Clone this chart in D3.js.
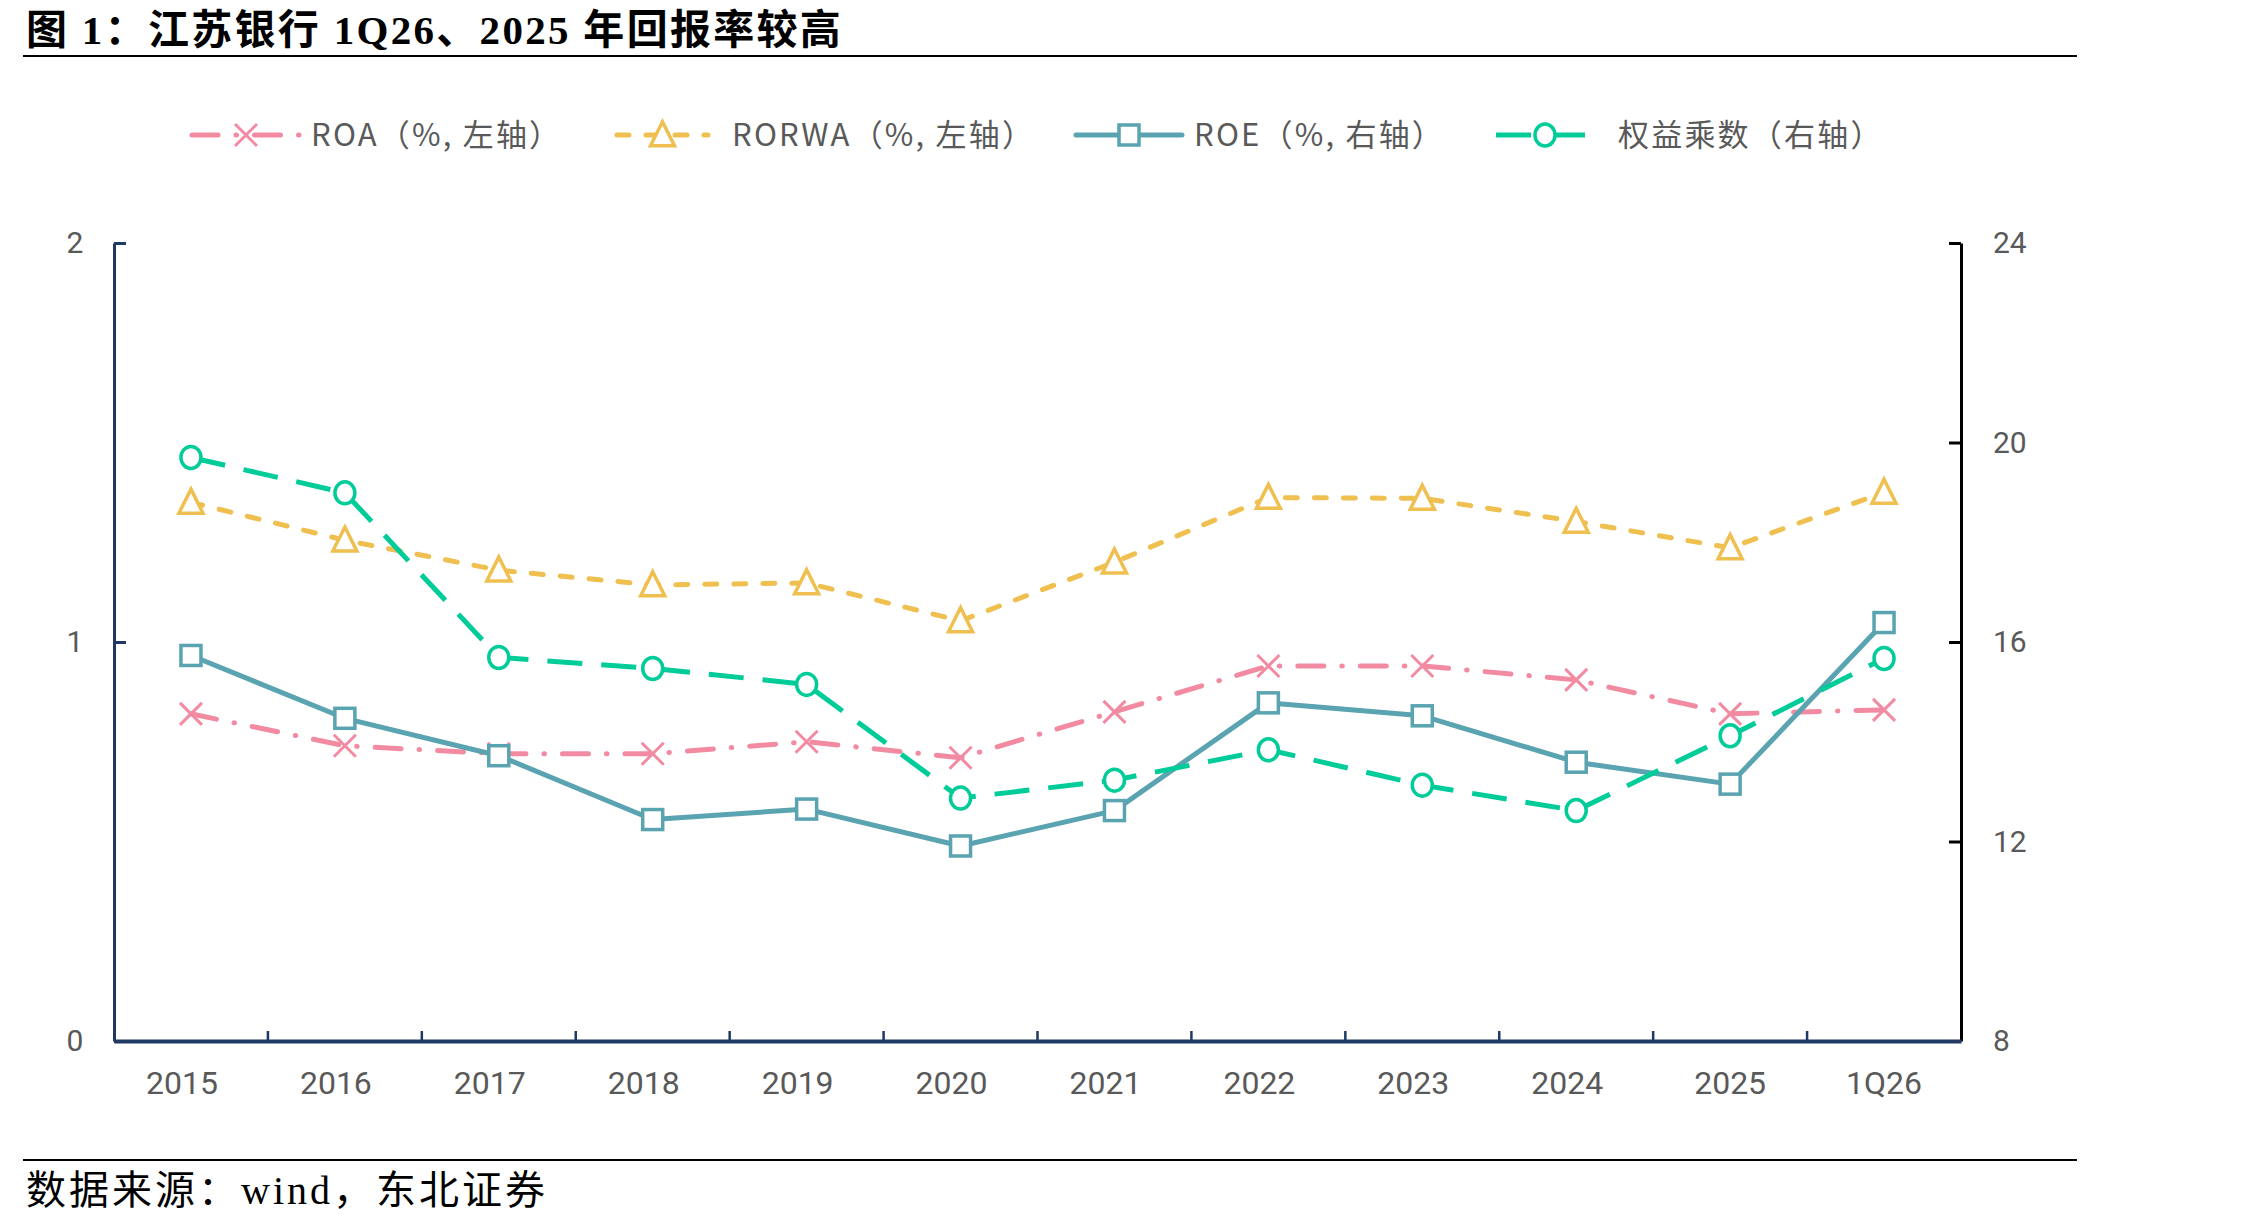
<!DOCTYPE html>
<html>
<head>
<meta charset="utf-8">
<script src="https://cdn.jsdelivr.net/npm/d3@7"></script>
<style>
    body { margin: 0; background: #fff; }
    svg { display: block; }
</style>
</head>
<body>
<svg id="chart"></svg>
<script>
// data
const categories = ["2015", "2016", "2017", "2018", "2019", "2020", "2021", "2022", "2023", "2024", "2025", "1Q26"];
const roa = [0.82, 0.74, 0.72, 0.72, 0.75, 0.71, 0.825, 0.94, 0.94, 0.905, 0.82, 0.83];
const rorwa = [1.35, 1.255, 1.18, 1.143, 1.148, 1.053, 1.2, 1.362, 1.36, 1.302, 1.236, 1.375];
const roe = [15.73, 14.47, 13.72, 12.44, 12.65, 11.91, 12.62, 14.78, 14.52, 13.59, 13.15, 16.39];
const equityMult = [19.7, 18.99, 15.69, 15.47, 15.15, 12.87, 13.23, 13.84, 13.13, 12.62, 14.12, 15.67];
const leftTicks = [0, 1, 2];
const rightTicks = [8, 12, 16, 20, 24];

const W = 2268, H = 1226;
const plot = { left: 114, right: 1961, top: 243, bottom: 1041 };
const grey = "#595959";
const navy = "#1f3864";
const tickFont = "Roboto, 'Noto Sans', sans-serif";
const cjkFont = "'Noto Sans CJK SC', 'Noto Sans', sans-serif";

const svg = d3.select("#chart").attr("width", W).attr("height", H);

// title + rules
svg.append("text")
    .attr("x", 26).attr("y", 44)
    .attr("font-family", "'Liberation Serif', 'Noto Sans CJK SC', serif")
    .attr("font-weight", "bold")
    .attr("font-size", 41)
    .attr("letter-spacing", 2.3)
    .attr("fill", "#000")
    .text("图 1：江苏银行 1Q26、2025 年回报率较高");
svg.append("line").attr("x1", 23).attr("x2", 2077).attr("y1", 56).attr("y2", 56)
    .attr("stroke", "#000").attr("stroke-width", 2);
svg.append("line").attr("x1", 23).attr("x2", 2077).attr("y1", 1160).attr("y2", 1160)
    .attr("stroke", "#000").attr("stroke-width", 2);
svg.append("text")
    .attr("x", 26).attr("y", 1204)
    .attr("font-family", "'Liberation Serif', 'Noto Sans CJK SC', serif")
    .attr("font-size", 40)
    .attr("letter-spacing", 3)
    .attr("fill", "#000")
    .text("数据来源：wind，东北证券");

// scales
const x = d3.scaleBand().domain(categories).range([plot.left, plot.right]).padding(0);
const cx = d => x(d) + x.bandwidth() / 2;
const yL = d3.scaleLinear().domain([0, 2]).range([plot.bottom, plot.top]);
const yR = d3.scaleLinear().domain([8, 24]).range([plot.bottom, plot.top]);

// axes
const axL = svg.append("g").attr("transform", `translate(${plot.left},0)`)
    .call(d3.axisLeft(yL).tickValues(leftTicks).tickFormat(d3.format("d")).tickSizeInner(-12).tickSizeOuter(0).tickPadding(32));
axL.select(".domain").attr("stroke", navy).attr("stroke-width", 3);
axL.selectAll(".tick line").attr("stroke", navy).attr("stroke-width", 3);
axL.selectAll(".tick text").attr("fill", grey).attr("font-size", 30).attr("font-family", tickFont)
    .attr("text-anchor", "middle").attr("x", -39);

const axR = svg.append("g").attr("transform", `translate(${plot.right},0)`)
    .call(d3.axisRight(yR).tickValues(rightTicks).tickSizeInner(-12).tickSizeOuter(0).tickPadding(32));
axR.select(".domain").attr("stroke", "#000").attr("stroke-width", 3);
axR.selectAll(".tick line").attr("stroke", "#000").attr("stroke-width", 3);
axR.selectAll(".tick text").attr("fill", grey).attr("font-size", 30).attr("font-family", tickFont);

const axB = svg.append("g").attr("transform", `translate(0,${plot.bottom})`)
    .call(d3.axisBottom(x).tickSize(0).tickPadding(30));
axB.select(".domain").attr("stroke", navy).attr("stroke-width", 4);
axB.selectAll(".tick text").attr("fill", grey).attr("font-size", 32).attr("font-family", tickFont)
    .attr("dx", (d, i) => i < categories.length - 2 ? -9 : 0);
// category boundary ticks pointing up
axB.selectAll(".sep").data(categories.slice(1)).enter().append("line")
    .attr("class", "sep")
    .attr("x1", d => x(d)).attr("x2", d => x(d))
    .attr("y1", 0).attr("y2", -10)
    .attr("stroke", navy).attr("stroke-width", 2.5);

// markers
function marker(g, type, color, px, py) {
    if (type === "x") {
        const s = 11;
        g.append("path")
            .attr("d", `M${px - s},${py - s}L${px + s},${py + s}M${px - s},${py + s}L${px + s},${py - s}`)
            .attr("stroke", color).attr("stroke-width", 3).attr("fill", "none");
    } else if (type === "tri") {
        const s = 12;
        g.append("path")
            .attr("d", `M${px},${py - s * 1.1}L${px + s},${py + s * 0.9}L${px - s},${py + s * 0.9}Z`)
            .attr("stroke", color).attr("stroke-width", 3.5).attr("fill", "#fff");
    } else if (type === "sq") {
        g.append("rect")
            .attr("x", px - 10).attr("y", py - 10).attr("width", 20).attr("height", 20)
            .attr("stroke", color).attr("stroke-width", 3.5).attr("fill", "#fff");
    } else {
        g.append("ellipse")
            .attr("cx", px).attr("cy", py).attr("rx", 10).attr("ry", 11)
            .attr("stroke", color).attr("stroke-width", 3.5).attr("fill", "#fff");
    }
}

const series = [
    { name: "ROA（%, 左轴）", values: roa, y: yL, color: "#f28ba2", dash: "26,18,0.5,18", cap: "round", type: "x", lx: 192, lx2: 300, tx: 311 },
    { name: "RORWA（%, 左轴）", values: rorwa, y: yL, color: "#efbf50", dash: "12,17", cap: "round", type: "tri", lx: 617, lx2: 708, tx: 732 },
    { name: "ROE（%, 右轴）", values: roe, y: yR, color: "#5aa3b0", dash: null, cap: "round", type: "sq", lx: 1076, lx2: 1182, tx: 1194 },
    { name: "权益乘数（右轴）", values: equityMult, y: yR, color: "#00cc99", dash: "35,19", cap: "butt", type: "o", lx: 1496, lx2: 1594, tx: 1618 }
];

series.forEach(s => {
    const pts = categories.map((c, i) => [cx(c), s.y(s.values[i])]);
    const g = svg.append("g");
    g.append("path")
        .attr("d", d3.line()(pts))
        .attr("fill", "none")
        .attr("stroke", s.color)
        .attr("stroke-width", 5)
        .attr("stroke-linecap", s.cap)
        .attr("stroke-linejoin", "round")
        .attr("stroke-dasharray", s.dash);
    pts.forEach(p => marker(g, s.type, s.color, p[0], p[1]));

    // legend
    const ly = 135;
    const lg = svg.append("g");
    lg.append("line")
        .attr("x1", s.lx).attr("x2", s.lx2).attr("y1", ly).attr("y2", ly)
        .attr("stroke", s.color).attr("stroke-width", 5)
        .attr("stroke-linecap", s.cap)
        .attr("stroke-dasharray", s.dash);
    marker(lg, s.type, s.color, (s.lx + s.lx2) / 2, ly);
    lg.append("text")
        .attr("x", s.tx).attr("y", ly + 11)
        .attr("font-family", cjkFont)
        .attr("font-size", 31)
        .attr("letter-spacing", 2.2)
        .attr("fill", grey)
        .text(s.name);
});
</script>
</body>
</html>
